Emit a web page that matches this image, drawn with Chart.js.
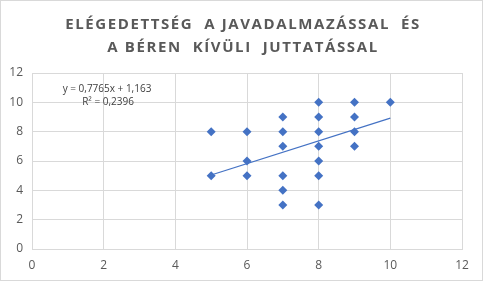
<!DOCTYPE html>
<html>
<head>
<meta charset="utf-8">
<script src="https://cdn.jsdelivr.net/npm/chart.js@4"></script>
<style>
  html, body { margin: 0; padding: 0; background: #fff; }
  #wrap { width: 483px; height: 281px; }
</style>
</head>
<body>
<div id="wrap"><canvas id="myChart"></canvas></div>
<script>
const ctx = document.getElementById('myChart');

// survey answers (x: wage satisfaction, y: benefits satisfaction)
const xValues = [5, 5, 6, 6, 6, 7, 7, 7, 7, 7, 7, 8, 8, 8, 8, 8, 8, 8, 9, 9, 9, 9, 10];
const yValues = [5, 8, 8, 6, 5, 9, 8, 7, 5, 4, 3, 10, 9, 8, 7, 6, 5, 3, 10, 9, 8, 7, 10];
const axisTicks = [0, 2, 4, 6, 8, 10, 12];
const titleLines = ['ELÉGEDETTSÉG  A JAVADALMAZÁSSAL  ÉS', 'A BÉREN  KÍVÜLI  JUTTATÁSSAL'];
const trendSlope = 0.7765;
const trendIntercept = 1.163;
const trendRange = [5, 10];
const equationLines = ['y = 0,7765x + 1,163', 'R² = 0,2396'];

const points = xValues.map((x, i) => ({ x: x, y: yValues[i] }));
const trendPoints = trendRange.map(x => ({ x: x, y: trendSlope * x + trendIntercept }));

const blue = '#4472C4';
const grid = '#d9d9d9';
const font = '"Open Sans", "Liberation Sans", sans-serif';

const decor = {
    id: 'decor',
    beforeDraw: (chart) => {
        const { ctx } = chart;
        ctx.save();
        ctx.fillStyle = '#fff';
        ctx.fillRect(0, 0, chart.width, chart.height);
        ctx.restore();
    },
    afterDraw: (chart) => {
        const { ctx } = chart;
        ctx.save();
        ctx.strokeStyle = grid;
        ctx.lineWidth = 1;
        ctx.strokeRect(0.5, 0.5, chart.width - 1, chart.height - 1);

        // title
        ctx.fillStyle = '#595959';
        ctx.font = 'bold 15px ' + font;
        ctx.letterSpacing = '1.6px';
        ctx.textAlign = 'center';
        ctx.textBaseline = 'alphabetic';
        ctx.fillText(titleLines[0], 243, 29);
        ctx.fillText(titleLines[1], 243, 52);

        // trendline label
        ctx.letterSpacing = '0px';
        ctx.fillStyle = '#404040';
        ctx.font = '10px ' + font;
        ctx.textBaseline = 'middle';
        ctx.fillText(equationLines[0], 107, 89);
        ctx.fillText(equationLines[1], 108, 102);
        ctx.restore();
    }
};

const cfg = {
    type: 'scatter',
    data: {
        datasets: [
            {
                label: 'Elégedettség',
                data: points,
                pointStyle: 'rectRot',
                pointRadius: 4.5,
                pointHoverRadius: 4.5,
                backgroundColor: blue,
                borderColor: blue,
                borderWidth: 0
            },
            {
                type: 'line',
                label: 'Trend',
                data: trendPoints,
                borderColor: blue,
                borderWidth: 1.3,
                pointRadius: 0,
                fill: false
            }
        ]
    },
    options: {
        responsive: true,
        maintainAspectRatio: false,
        animation: false,
        layout: {
            padding: { top: 73, right: 21, bottom: 0, left: 0 }
        },
        plugins: {
            legend: { display: false },
            tooltip: { enabled: false }
        },
        scales: {
            x: {
                type: 'linear',
                min: 0,
                max: 12,
                afterBuildTicks: (scale) => { scale.ticks = axisTicks.map(v => ({ value: v })); },
                afterFit: (scale) => { scale.height = 32; },
                grid: { color: grid, drawTicks: false },
                border: { color: grid },
                ticks: {
                    color: '#595959',
                    padding: 9,
                    font: { family: font, size: 12 }
                }
            },
            y: {
                min: 0,
                max: 12,
                afterBuildTicks: (scale) => { scale.ticks = axisTicks.map(v => ({ value: v })); },
                afterFit: (scale) => { scale.width = 32; },
                grid: { color: grid, drawTicks: false },
                border: { color: grid },
                ticks: {
                    color: '#595959',
                    padding: 9,
                    font: { family: font, size: 12 }
                }
            }
        }
    },
    plugins: [decor]
};

new Chart(ctx, cfg);
</script>
</body>
</html>
